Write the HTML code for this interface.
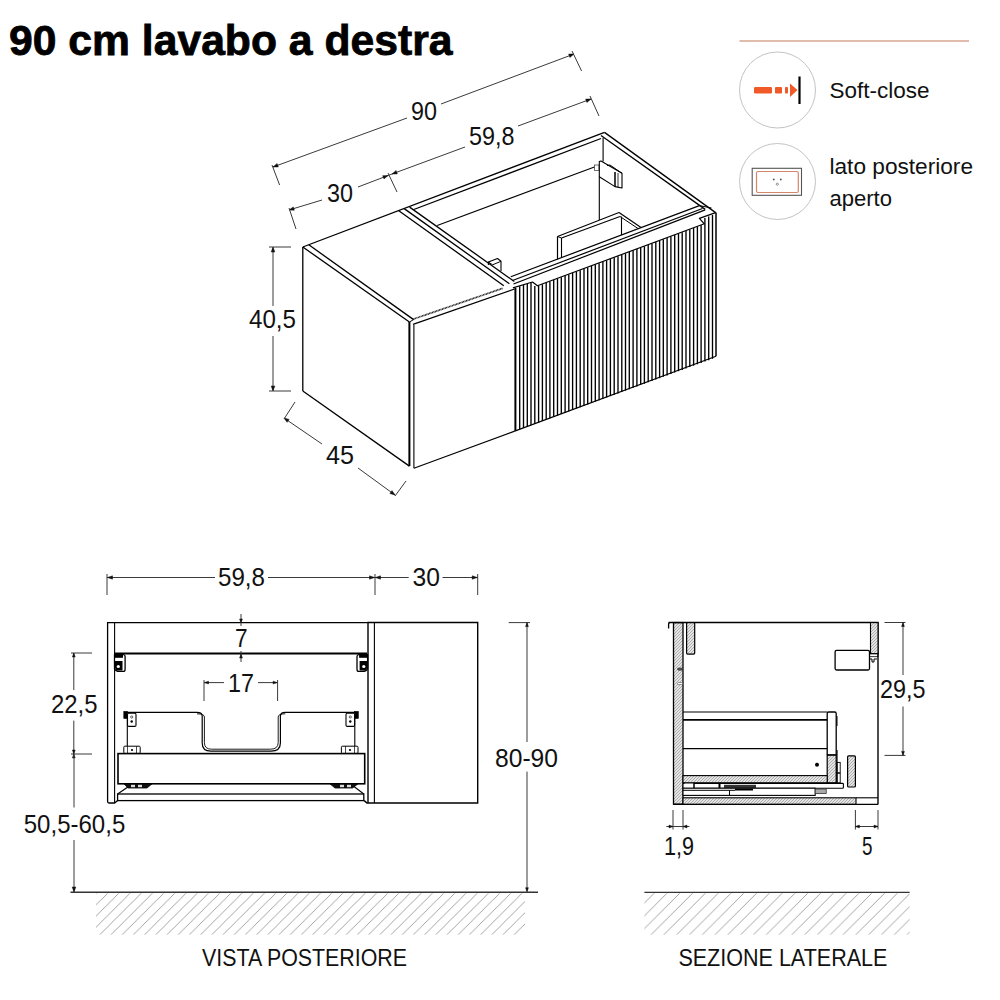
<!DOCTYPE html>
<html><head><meta charset="utf-8"><style>
html,body{margin:0;padding:0;background:#fff;width:1000px;height:1000px;overflow:hidden}
svg{display:block}
text{font-family:"Liberation Sans",sans-serif}
</style></head><body>
<svg width="1000" height="1000" viewBox="0 0 1000 1000">
<defs>
<pattern id="hatch1" patternUnits="userSpaceOnUse" width="11.2" height="11.2" patternTransform="translate(1034.5,0)">
<line x1="-1" y1="12.2" x2="12.2" y2="-1" stroke="#9a9a9a" stroke-width="0.9"/>
</pattern>
<pattern id="hatch3" patternUnits="userSpaceOnUse" width="12.8" height="12.8" patternTransform="translate(1585.8,0)">
<line x1="-1" y1="13.8" x2="13.8" y2="-1" stroke="#9a9a9a" stroke-width="0.9"/>
</pattern>
<pattern id="hatch2" patternUnits="userSpaceOnUse" width="3" height="3">
<rect width="3" height="3" fill="#e4e4e4"/>
<line x1="-0.5" y1="3.5" x2="3.5" y2="-0.5" stroke="#a0a0a0" stroke-width="0.8"/>
</pattern>
</defs>
<rect width="1000" height="1000" fill="#fff"/>
<text x="9" y="55.3" font-size="42" font-weight="bold" fill="#000" stroke="#000" stroke-width="0.8" text-anchor="start" textLength="443.5" lengthAdjust="spacingAndGlyphs">90 cm lavabo a destra</text>
<line x1="739.5" y1="41.0" x2="969.0" y2="41.0" stroke="#c47a5a" stroke-width="1.2"/>
<circle cx="777.5" cy="90" r="38" fill="none" stroke="#c4c4c4" stroke-width="1"/>
<rect x="754" y="87" width="18" height="6.5" rx="1.2" fill="#f05a28"/>
<rect x="775" y="87" width="7" height="6.5" rx="1" fill="#f05a28"/>
<rect x="785" y="87" width="3" height="6.5" rx="0.8" fill="#f05a28"/>
<polygon points="790,83.5 797.5,90 790,97" fill="#f05a28"/>
<line x1="799.5" y1="76.5" x2="799.5" y2="104.0" stroke="#000" stroke-width="2.2"/>
<text x="829.5" y="98.4" font-size="22" font-weight="normal" fill="#111" text-anchor="start" textLength="100" lengthAdjust="spacingAndGlyphs">Soft-close</text>
<circle cx="777.5" cy="181.5" r="38" fill="none" stroke="#c4c4c4" stroke-width="1"/>
<rect x="752.2" y="168.3" width="49.3" height="27.0" rx="0" stroke="#555" stroke-width="1.1" fill="none"/>
<rect x="756.5" y="171.5" width="41.8" height="21.0" rx="1.5" stroke="#d4866a" stroke-width="1.2" fill="none"/>
<circle cx="773.8" cy="179.5" r="0.9" fill="#555"/><circle cx="780.8" cy="179.5" r="0.9" fill="#555"/><circle cx="777.3" cy="184.2" r="1.1" fill="none" stroke="#555" stroke-width="0.6"/>
<text x="829.5" y="174" font-size="22" font-weight="normal" fill="#111" text-anchor="start" textLength="143.5" lengthAdjust="spacingAndGlyphs">lato posteriore</text>
<text x="829.5" y="206.4" font-size="22" font-weight="normal" fill="#111" text-anchor="start" textLength="62.5" lengthAdjust="spacingAndGlyphs">aperto</text>
<line x1="273.0" y1="167.0" x2="407.0" y2="118.0" stroke="#3a3a3a" stroke-width="1.0"/>
<line x1="441.0" y1="104.0" x2="574.0" y2="54.0" stroke="#3a3a3a" stroke-width="1.0"/>
<polygon points="273.0,167.0 277.1,163.6 278.3,166.9" stroke="#111" stroke-width="0.5" fill="#111" stroke-linejoin="round"/>
<polygon points="574.0,54.0 569.9,57.4 568.7,54.1" stroke="#111" stroke-width="0.5" fill="#111" stroke-linejoin="round"/>
<line x1="272.0" y1="165.0" x2="279.6" y2="185.0" stroke="#3a3a3a" stroke-width="1.0"/>
<line x1="572.0" y1="51.0" x2="581.6" y2="71.0" stroke="#3a3a3a" stroke-width="1.0"/>
<text x="411" y="120" font-size="25" font-weight="normal" fill="#111" text-anchor="start" textLength="26" lengthAdjust="spacingAndGlyphs">90</text>
<line x1="392.0" y1="174.0" x2="465.0" y2="147.0" stroke="#3a3a3a" stroke-width="1.0"/>
<line x1="518.0" y1="126.0" x2="591.0" y2="99.0" stroke="#3a3a3a" stroke-width="1.0"/>
<polygon points="392.0,174.0 396.1,170.6 397.3,173.9" stroke="#111" stroke-width="0.5" fill="#111" stroke-linejoin="round"/>
<polygon points="591.0,99.0 586.9,102.4 585.7,99.1" stroke="#111" stroke-width="0.5" fill="#111" stroke-linejoin="round"/>
<line x1="590.0" y1="96.0" x2="599.0" y2="116.0" stroke="#3a3a3a" stroke-width="1.0"/>
<text x="469" y="145" font-size="25" font-weight="normal" fill="#111" text-anchor="start" textLength="45.5" lengthAdjust="spacingAndGlyphs">59,8</text>
<line x1="289.0" y1="210.0" x2="322.0" y2="200.0" stroke="#3a3a3a" stroke-width="1.0"/>
<line x1="358.0" y1="187.0" x2="392.0" y2="174.0" stroke="#3a3a3a" stroke-width="1.0"/>
<polygon points="289.0,210.0 293.3,206.9 294.3,210.2" stroke="#111" stroke-width="0.5" fill="#111" stroke-linejoin="round"/>
<polygon points="388.0,175.5 384.0,178.9 382.7,175.7" stroke="#111" stroke-width="0.5" fill="#111" stroke-linejoin="round"/>
<line x1="289.0" y1="208.0" x2="296.0" y2="229.0" stroke="#3a3a3a" stroke-width="1.0"/>
<line x1="388.0" y1="173.0" x2="397.0" y2="192.0" stroke="#3a3a3a" stroke-width="1.0"/>
<text x="327" y="202" font-size="25" font-weight="normal" fill="#111" text-anchor="start" textLength="26" lengthAdjust="spacingAndGlyphs">30</text>
<line x1="273.0" y1="247.0" x2="273.0" y2="306.0" stroke="#3a3a3a" stroke-width="1.0"/>
<line x1="273.0" y1="336.0" x2="273.0" y2="391.0" stroke="#3a3a3a" stroke-width="1.0"/>
<polygon points="273.0,247.0 274.8,252.0 271.2,252.0" stroke="#111" stroke-width="0.5" fill="#111" stroke-linejoin="round"/>
<polygon points="273.0,391.0 271.2,386.0 274.8,386.0" stroke="#111" stroke-width="0.5" fill="#111" stroke-linejoin="round"/>
<line x1="269.0" y1="247.0" x2="291.0" y2="247.0" stroke="#3a3a3a" stroke-width="1.0"/>
<line x1="269.0" y1="391.0" x2="291.0" y2="391.0" stroke="#3a3a3a" stroke-width="1.0"/>
<text x="249" y="328.3" font-size="25" font-weight="normal" fill="#111" text-anchor="start" textLength="47" lengthAdjust="spacingAndGlyphs">40,5</text>
<line x1="284.0" y1="418.0" x2="322.0" y2="444.0" stroke="#3a3a3a" stroke-width="1.0"/>
<line x1="358.0" y1="468.0" x2="395.0" y2="495.0" stroke="#3a3a3a" stroke-width="1.0"/>
<polygon points="284.0,418.0 289.1,419.4 287.1,422.3" stroke="#111" stroke-width="0.5" fill="#111" stroke-linejoin="round"/>
<polygon points="395.0,495.0 389.9,493.5 392.0,490.6" stroke="#111" stroke-width="0.5" fill="#111" stroke-linejoin="round"/>
<line x1="284.0" y1="419.0" x2="295.0" y2="402.0" stroke="#3a3a3a" stroke-width="1.0"/>
<line x1="395.0" y1="496.0" x2="406.0" y2="481.0" stroke="#3a3a3a" stroke-width="1.0"/>
<text x="326" y="464.4" font-size="25" font-weight="normal" fill="#111" text-anchor="start" textLength="28" lengthAdjust="spacingAndGlyphs">45</text>
<line x1="302.8" y1="247.0" x2="302.8" y2="391.0" stroke="#000" stroke-width="1.3"/>
<line x1="302.8" y1="391.0" x2="409.4" y2="466.1" stroke="#000" stroke-width="1.3"/>
<line x1="302.8" y1="247.0" x2="604.5" y2="132.4" stroke="#000" stroke-width="1.3"/>
<line x1="302.8" y1="247.0" x2="409.4" y2="322.0" stroke="#000" stroke-width="1.3"/>
<line x1="308.8" y1="244.8" x2="413.6" y2="319.6" stroke="#000" stroke-width="1.3"/>
<line x1="409.4" y1="322.0" x2="409.4" y2="466.1" stroke="#000" stroke-width="2.0"/>
<line x1="413.9" y1="325.0" x2="413.9" y2="468.2" stroke="#000" stroke-width="1.1"/>
<line x1="413.6" y1="319" x2="503" y2="288.2" stroke="#1a1a1a" stroke-width="1.7" stroke-dasharray="1 0.5"/>
<line x1="413.0" y1="324.4" x2="514.5" y2="289.0" stroke="#000" stroke-width="1.2"/>
<line x1="413.9" y1="468.2" x2="514.7" y2="431.1" stroke="#000" stroke-width="1.2"/>
<line x1="409.4" y1="322.0" x2="413.6" y2="319.6" stroke="#000" stroke-width="1.0"/>
<line x1="398.8" y1="210.7" x2="503.8" y2="285.8" stroke="#000" stroke-width="1.3"/>
<line x1="404.2" y1="208.6" x2="509.4" y2="283.7" stroke="#000" stroke-width="1.3"/>
<line x1="409.6" y1="207.1" x2="514.3" y2="281.5" stroke="#000" stroke-width="1.3"/>
<line x1="413.8" y1="209.5" x2="601.0" y2="138.5" stroke="#000" stroke-width="1.3"/>
<line x1="604.5" y1="132.4" x2="715.6" y2="212.6" stroke="#000" stroke-width="1.3"/>
<line x1="601.0" y1="135.5" x2="705.2" y2="209.4" stroke="#000" stroke-width="1.3"/>
<line x1="603.1" y1="138.0" x2="603.1" y2="161.4" stroke="#000" stroke-width="1.1"/>
<line x1="599.3" y1="176.8" x2="599.3" y2="220.0" stroke="#000" stroke-width="1.1"/>
<line x1="437.2" y1="225.4" x2="594.4" y2="167.0" stroke="#000" stroke-width="1.1"/>
<rect x="594.4" y="165.0" width="4.6" height="5.5" rx="0" stroke="#333" stroke-width="0.7" fill="none"/>
<polygon points="599.3,161.6 601.0,161.0 622.0,173.3 622.0,188.0 615.0,186.6 599.3,176.8" stroke="#000" stroke-width="1.1" fill="none" stroke-linejoin="round"/>
<polyline points="607.0,165.5 610.0,165.0 622.0,173.3" stroke="#000" stroke-width="1.0" fill="none" stroke-linejoin="round"/>
<line x1="615.0" y1="172.0" x2="615.0" y2="186.6" stroke="#000" stroke-width="1.5"/>
<line x1="618.0" y1="173.0" x2="618.0" y2="187.5" stroke="#000" stroke-width="0.8"/>
<polyline points="488.4,265.0 488.4,262.0 497.5,258.5 501.0,261.3 501.0,271.1" stroke="#000" stroke-width="1.1" fill="none" stroke-linejoin="round"/>
<line x1="488.4" y1="262.0" x2="492.6" y2="264.8" stroke="#000" stroke-width="1.0"/>
<line x1="492.6" y1="264.8" x2="501.0" y2="261.3" stroke="#000" stroke-width="1.0"/>
<line x1="557.5" y1="236.5" x2="557.5" y2="259.5" stroke="#000" stroke-width="1.2"/>
<line x1="561.5" y1="238.0" x2="561.5" y2="257.5" stroke="#000" stroke-width="1.1"/>
<line x1="557.5" y1="236.5" x2="619.0" y2="212.5" stroke="#000" stroke-width="1.2"/>
<line x1="561.5" y1="238.0" x2="620.0" y2="216.5" stroke="#000" stroke-width="1.1"/>
<line x1="619.0" y1="212.5" x2="641.0" y2="227.5" stroke="#000" stroke-width="1.2"/>
<line x1="620.0" y1="216.5" x2="638.0" y2="228.5" stroke="#000" stroke-width="1.0"/>
<line x1="621.5" y1="216.5" x2="621.5" y2="235.0" stroke="#000" stroke-width="1.1"/>
<line x1="557.5" y1="236.5" x2="561.5" y2="238.0" stroke="#000" stroke-width="1.0"/>
<line x1="510.8" y1="276.7" x2="699.4" y2="205.6" stroke="#000" stroke-width="1.2"/>
<line x1="512.5" y1="280.5" x2="702.5" y2="208.5" stroke="#000" stroke-width="1.2"/>
<line x1="513.5" y1="284.0" x2="705.2" y2="209.9" stroke="#000" stroke-width="1.2"/>
<line x1="699.4" y1="205.6" x2="711.5" y2="208.0" stroke="#000" stroke-width="1.0"/>
<polyline points="512.9,287.9 532.5,282.0 537.4,285.8 704.3,223.8 699.4,218.4 715.6,212.6" stroke="#000" stroke-width="1.2" fill="none" stroke-linejoin="round"/>
<line x1="716.0" y1="212.6" x2="716.0" y2="356.2" stroke="#000" stroke-width="1.5"/>
<line x1="514.7" y1="431.1" x2="716.0" y2="356.2" stroke="#000" stroke-width="1.2"/>
<line x1="515.4" y1="288.0" x2="515.4" y2="431.0" stroke="#000" stroke-width="2.0"/>
<line x1="519.7" y1="286.2" x2="519.7" y2="429.3" stroke="#000" stroke-width="1.35"/>
<line x1="523.5" y1="285.0" x2="523.5" y2="427.9" stroke="#000" stroke-width="1.35"/>
<line x1="527.3" y1="283.9" x2="527.3" y2="426.5" stroke="#000" stroke-width="1.35"/>
<line x1="531.0" y1="282.8" x2="531.0" y2="425.1" stroke="#000" stroke-width="1.35"/>
<line x1="534.8" y1="286.1" x2="534.8" y2="423.7" stroke="#000" stroke-width="1.35"/>
<line x1="538.6" y1="285.7" x2="538.6" y2="422.4" stroke="#000" stroke-width="1.35"/>
<line x1="542.4" y1="284.3" x2="542.4" y2="421.0" stroke="#000" stroke-width="1.35"/>
<line x1="546.2" y1="282.8" x2="546.2" y2="419.6" stroke="#000" stroke-width="1.35"/>
<line x1="549.9" y1="281.4" x2="549.9" y2="418.2" stroke="#000" stroke-width="1.35"/>
<line x1="553.7" y1="280.0" x2="553.7" y2="416.8" stroke="#000" stroke-width="1.35"/>
<line x1="557.5" y1="278.6" x2="557.5" y2="415.5" stroke="#000" stroke-width="1.35"/>
<line x1="561.3" y1="277.2" x2="561.3" y2="414.1" stroke="#000" stroke-width="1.35"/>
<line x1="565.1" y1="275.8" x2="565.1" y2="412.7" stroke="#000" stroke-width="1.35"/>
<line x1="568.8" y1="274.4" x2="568.8" y2="411.3" stroke="#000" stroke-width="1.35"/>
<line x1="572.6" y1="273.0" x2="572.6" y2="409.9" stroke="#000" stroke-width="1.35"/>
<line x1="576.4" y1="271.6" x2="576.4" y2="408.5" stroke="#000" stroke-width="1.35"/>
<line x1="580.2" y1="270.2" x2="580.2" y2="407.2" stroke="#000" stroke-width="1.35"/>
<line x1="584.0" y1="268.8" x2="584.0" y2="405.8" stroke="#000" stroke-width="1.35"/>
<line x1="587.7" y1="267.4" x2="587.7" y2="404.4" stroke="#000" stroke-width="1.35"/>
<line x1="591.5" y1="266.0" x2="591.5" y2="403.0" stroke="#000" stroke-width="1.35"/>
<line x1="595.3" y1="264.6" x2="595.3" y2="401.6" stroke="#000" stroke-width="1.35"/>
<line x1="599.1" y1="263.2" x2="599.1" y2="400.3" stroke="#000" stroke-width="1.35"/>
<line x1="602.9" y1="261.8" x2="602.9" y2="398.9" stroke="#000" stroke-width="1.35"/>
<line x1="606.6" y1="260.4" x2="606.6" y2="397.5" stroke="#000" stroke-width="1.35"/>
<line x1="610.4" y1="259.0" x2="610.4" y2="396.1" stroke="#000" stroke-width="1.35"/>
<line x1="614.2" y1="257.6" x2="614.2" y2="394.7" stroke="#000" stroke-width="1.35"/>
<line x1="618.0" y1="256.2" x2="618.0" y2="393.4" stroke="#000" stroke-width="1.35"/>
<line x1="621.8" y1="254.8" x2="621.8" y2="392.0" stroke="#000" stroke-width="1.35"/>
<line x1="625.5" y1="253.4" x2="625.5" y2="390.6" stroke="#000" stroke-width="1.35"/>
<line x1="629.3" y1="252.0" x2="629.3" y2="389.2" stroke="#000" stroke-width="1.35"/>
<line x1="633.1" y1="250.5" x2="633.1" y2="387.8" stroke="#000" stroke-width="1.35"/>
<line x1="636.9" y1="249.1" x2="636.9" y2="386.4" stroke="#000" stroke-width="1.35"/>
<line x1="640.7" y1="247.7" x2="640.7" y2="385.1" stroke="#000" stroke-width="1.35"/>
<line x1="644.4" y1="246.3" x2="644.4" y2="383.7" stroke="#000" stroke-width="1.35"/>
<line x1="648.2" y1="244.9" x2="648.2" y2="382.3" stroke="#000" stroke-width="1.35"/>
<line x1="652.0" y1="243.5" x2="652.0" y2="380.9" stroke="#000" stroke-width="1.35"/>
<line x1="655.8" y1="242.1" x2="655.8" y2="379.5" stroke="#000" stroke-width="1.35"/>
<line x1="659.6" y1="240.7" x2="659.6" y2="378.2" stroke="#000" stroke-width="1.35"/>
<line x1="663.3" y1="239.3" x2="663.3" y2="376.8" stroke="#000" stroke-width="1.35"/>
<line x1="667.1" y1="237.9" x2="667.1" y2="375.4" stroke="#000" stroke-width="1.35"/>
<line x1="670.9" y1="236.5" x2="670.9" y2="374.0" stroke="#000" stroke-width="1.35"/>
<line x1="674.7" y1="235.1" x2="674.7" y2="372.6" stroke="#000" stroke-width="1.35"/>
<line x1="678.5" y1="233.7" x2="678.5" y2="371.2" stroke="#000" stroke-width="1.35"/>
<line x1="682.2" y1="232.3" x2="682.2" y2="369.9" stroke="#000" stroke-width="1.35"/>
<line x1="686.0" y1="230.9" x2="686.0" y2="368.5" stroke="#000" stroke-width="1.35"/>
<line x1="689.8" y1="229.5" x2="689.8" y2="367.1" stroke="#000" stroke-width="1.35"/>
<line x1="693.6" y1="228.1" x2="693.6" y2="365.7" stroke="#000" stroke-width="1.35"/>
<line x1="697.4" y1="226.7" x2="697.4" y2="364.3" stroke="#000" stroke-width="1.35"/>
<line x1="701.1" y1="225.3" x2="701.1" y2="363.0" stroke="#000" stroke-width="1.35"/>
<line x1="704.9" y1="218.1" x2="704.9" y2="361.6" stroke="#000" stroke-width="1.35"/>
<line x1="708.7" y1="216.5" x2="708.7" y2="360.2" stroke="#000" stroke-width="1.35"/>
<line x1="712.5" y1="215.0" x2="712.5" y2="358.8" stroke="#000" stroke-width="1.35"/>
<line x1="107.0" y1="577.5" x2="215.0" y2="577.5" stroke="#3a3a3a" stroke-width="1.0"/>
<line x1="268.0" y1="577.5" x2="408.7" y2="577.5" stroke="#3a3a3a" stroke-width="1.0"/>
<line x1="442.5" y1="577.5" x2="477.7" y2="577.5" stroke="#3a3a3a" stroke-width="1.0"/>
<line x1="107.0" y1="574.0" x2="107.0" y2="595.0" stroke="#3a3a3a" stroke-width="1.0"/>
<line x1="375.0" y1="574.0" x2="375.0" y2="595.0" stroke="#3a3a3a" stroke-width="1.0"/>
<line x1="477.7" y1="574.0" x2="477.7" y2="595.0" stroke="#3a3a3a" stroke-width="1.0"/>
<polygon points="107.5,577.5 112.5,575.8 112.5,579.2" stroke="#111" stroke-width="0.5" fill="#111" stroke-linejoin="round"/>
<polygon points="374.5,577.5 369.5,579.2 369.5,575.8" stroke="#111" stroke-width="0.5" fill="#111" stroke-linejoin="round"/>
<polygon points="375.5,577.5 380.5,575.8 380.5,579.2" stroke="#111" stroke-width="0.5" fill="#111" stroke-linejoin="round"/>
<polygon points="477.2,577.5 472.2,579.2 472.2,575.8" stroke="#111" stroke-width="0.5" fill="#111" stroke-linejoin="round"/>
<text x="218" y="586" font-size="25" font-weight="normal" fill="#111" text-anchor="start" textLength="47" lengthAdjust="spacingAndGlyphs">59,8</text>
<text x="412.6" y="586" font-size="25" font-weight="normal" fill="#111" text-anchor="start" textLength="27.4" lengthAdjust="spacingAndGlyphs">30</text>
<path d="M367.8,622.7 L107.6,622.7 L107.6,801.5 Q107.6,803 109,803 L114.6,803 L117.6,800.6" stroke="#000" stroke-width="1.3" fill="none"/>
<line x1="114.6" y1="622.7" x2="114.6" y2="803.0" stroke="#000" stroke-width="1.1"/>
<path d="M364.2,800.6 L367,803 L477.7,803 L477.7,622.5 L368,622.5 L368,803" stroke="#000" stroke-width="1.4" fill="none"/>
<line x1="374.4" y1="622.5" x2="374.4" y2="803.0" stroke="#000" stroke-width="1.1"/>
<line x1="114.4" y1="653.6" x2="367.0" y2="653.6" stroke="#000" stroke-width="2.0"/>
<line x1="241.0" y1="614.0" x2="241.0" y2="626.0" stroke="#3a3a3a" stroke-width="1.0"/>
<line x1="241.0" y1="651.0" x2="241.0" y2="662.0" stroke="#3a3a3a" stroke-width="1.0"/>
<polygon points="241.0,623.0 239.6,619.0 242.4,619.0" stroke="#111" stroke-width="0.5" fill="#111" stroke-linejoin="round"/>
<polygon points="241.0,654.0 242.4,658.0 239.6,658.0" stroke="#111" stroke-width="0.5" fill="#111" stroke-linejoin="round"/>
<text x="235" y="647" font-size="25" font-weight="normal" fill="#111" text-anchor="start" textLength="12.6" lengthAdjust="spacingAndGlyphs">7</text>
<line x1="204.0" y1="680.0" x2="204.0" y2="701.0" stroke="#3a3a3a" stroke-width="1.0"/>
<line x1="277.6" y1="680.0" x2="277.6" y2="701.0" stroke="#3a3a3a" stroke-width="1.0"/>
<line x1="204.0" y1="682.6" x2="224.0" y2="682.6" stroke="#3a3a3a" stroke-width="1.0"/>
<line x1="258.0" y1="682.6" x2="277.6" y2="682.6" stroke="#3a3a3a" stroke-width="1.0"/>
<polygon points="204.5,682.6 208.5,681.2 208.5,684.0" stroke="#111" stroke-width="0.5" fill="#111" stroke-linejoin="round"/>
<polygon points="277.1,682.6 273.1,684.0 273.1,681.2" stroke="#111" stroke-width="0.5" fill="#111" stroke-linejoin="round"/>
<text x="228" y="692" font-size="25" font-weight="normal" fill="#111" text-anchor="start" textLength="26" lengthAdjust="spacingAndGlyphs">17</text>
<line x1="73.8" y1="653.0" x2="73.8" y2="690.0" stroke="#3a3a3a" stroke-width="1.0"/>
<line x1="73.8" y1="720.6" x2="73.8" y2="754.0" stroke="#3a3a3a" stroke-width="1.0"/>
<line x1="71.0" y1="653.0" x2="92.0" y2="653.0" stroke="#3a3a3a" stroke-width="1.0"/>
<line x1="71.0" y1="754.0" x2="92.0" y2="754.0" stroke="#3a3a3a" stroke-width="1.0"/>
<polygon points="73.8,653.0 75.2,657.0 72.4,657.0" stroke="#111" stroke-width="0.5" fill="#111" stroke-linejoin="round"/>
<polygon points="73.8,754.0 72.4,750.0 75.2,750.0" stroke="#111" stroke-width="0.5" fill="#111" stroke-linejoin="round"/>
<polygon points="73.8,754.0 75.2,758.0 72.4,758.0" stroke="#111" stroke-width="0.5" fill="#111" stroke-linejoin="round"/>
<text x="51" y="713" font-size="25" font-weight="normal" fill="#111" text-anchor="start" textLength="46.5" lengthAdjust="spacingAndGlyphs">22,5</text>
<line x1="74.0" y1="754.0" x2="74.0" y2="807.5" stroke="#3a3a3a" stroke-width="1.0"/>
<line x1="74.0" y1="840.0" x2="74.0" y2="892.0" stroke="#3a3a3a" stroke-width="1.0"/>
<polygon points="74.0,892.0 72.2,887.0 75.8,887.0" stroke="#111" stroke-width="0.5" fill="#111" stroke-linejoin="round"/>
<text x="23.75" y="832.5" font-size="25" font-weight="normal" fill="#111" text-anchor="start" textLength="101.5" lengthAdjust="spacingAndGlyphs">50,5-60,5</text>
<line x1="527.0" y1="622.6" x2="527.0" y2="742.0" stroke="#3a3a3a" stroke-width="1.0"/>
<line x1="527.0" y1="771.6" x2="527.0" y2="891.7" stroke="#3a3a3a" stroke-width="1.0"/>
<line x1="508.7" y1="622.6" x2="530.0" y2="622.6" stroke="#3a3a3a" stroke-width="1.0"/>
<polygon points="527.0,622.6 528.4,626.6 525.6,626.6" stroke="#111" stroke-width="0.5" fill="#111" stroke-linejoin="round"/>
<polygon points="527.0,891.7 525.6,887.7 528.4,887.7" stroke="#111" stroke-width="0.5" fill="#111" stroke-linejoin="round"/>
<text x="495" y="767" font-size="25" font-weight="normal" fill="#111" text-anchor="start" textLength="63" lengthAdjust="spacingAndGlyphs">80-90</text>
<g transform="translate(114.5,0) scale(1,1)"><path d="M0,654.6 L9,654.6 Q10.6,654.6 10.6,656.5 L10.6,669.5 Q10.6,671.4 8.7,671.4 L5,671.4 Q1,671.4 0,668.5 Z" fill="#fff" stroke="#000" stroke-width="1.3"/><rect x="0" y="654.6" width="8.5" height="3.2" fill="#000"/><path d="M0.5,661 L8,661 L8,670.5 L4,670.5 Q0.5,670.5 0.5,667 Z" fill="#000"/><circle cx="3.8" cy="666.5" r="1.6" fill="#fff"/></g>
<g transform="translate(367.6,0) scale(-1,1)"><path d="M0,654.6 L9,654.6 Q10.6,654.6 10.6,656.5 L10.6,669.5 Q10.6,671.4 8.7,671.4 L5,671.4 Q1,671.4 0,668.5 Z" fill="#fff" stroke="#000" stroke-width="1.3"/><rect x="0" y="654.6" width="8.5" height="3.2" fill="#000"/><path d="M0.5,661 L8,661 L8,670.5 L4,670.5 Q0.5,670.5 0.5,667 Z" fill="#000"/><circle cx="3.8" cy="666.5" r="1.6" fill="#fff"/></g>
<path d="M124,712.3 L197,712.3 Q202.2,712.3 202.2,716 L202.2,743 Q202.2,751.2 211,751.2 L271,751.2 Q280.4,751.2 280.4,743 L280.4,716 Q280.4,712.3 285.3,712.3 L358,712.3" stroke="#000" stroke-width="1.2" fill="none"/>
<path d="M197,713.8 Q204.4,713.8 204.4,717 L204.4,742.5 Q204.4,749.2 211.5,749.2 L270.5,749.2 Q278.2,749.2 278.2,742.5 L278.2,717 Q278.2,713.8 285.3,713.8" stroke="#000" stroke-width="0.9" fill="none"/>
<line x1="127.3" y1="718.0" x2="127.3" y2="746.0" stroke="#000" stroke-width="1.1"/>
<line x1="354.8" y1="718.0" x2="354.8" y2="746.0" stroke="#000" stroke-width="1.1"/>
<rect x="123.8" y="711.5" width="3.7" height="7.0" rx="0" stroke="#000" stroke-width="0.6" fill="#000"/>
<rect x="127.5" y="713.2" width="8.5" height="13.2" rx="1.2" stroke="#000" stroke-width="1.1" fill="#fff"/>
<circle cx="131.7" cy="717" r="1.1" fill="none" stroke="#000" stroke-width="0.6"/><circle cx="131.7" cy="721.5" r="1.2" fill="#000"/>
<rect x="354.6" y="711.5" width="3.7" height="7.0" rx="0" stroke="#000" stroke-width="0.6" fill="#000"/>
<rect x="346.0" y="713.2" width="8.6" height="13.2" rx="1.2" stroke="#000" stroke-width="1.1" fill="#fff"/>
<circle cx="350.3" cy="717" r="1.1" fill="none" stroke="#000" stroke-width="0.6"/><circle cx="350.3" cy="721.5" r="1.2" fill="#000"/>
<rect x="123.8" y="746.2" width="16.4" height="7.2" rx="1" stroke="#000" stroke-width="1.0" fill="none"/>
<line x1="127.5" y1="746.2" x2="127.5" y2="753.4" stroke="#000" stroke-width="0.7"/>
<line x1="136.5" y1="746.2" x2="136.5" y2="753.4" stroke="#000" stroke-width="0.7"/>
<circle cx="132" cy="750" r="1.1" fill="#000"/>
<rect x="341.4" y="746.2" width="16.6" height="7.2" rx="1" stroke="#000" stroke-width="1.0" fill="none"/>
<line x1="345.5" y1="746.2" x2="345.5" y2="753.4" stroke="#000" stroke-width="0.7"/>
<line x1="354.5" y1="746.2" x2="354.5" y2="753.4" stroke="#000" stroke-width="0.7"/>
<circle cx="350" cy="750" r="1.1" fill="#000"/>
<rect x="118.0" y="753.6" width="246.7" height="30.2" rx="0" stroke="#000" stroke-width="1.6" fill="none"/>
<rect x="117.6" y="794.0" width="246.2" height="6.6" rx="0" stroke="#000" stroke-width="1.3" fill="none"/>
<line x1="117.6" y1="794.0" x2="129.0" y2="786.2" stroke="#000" stroke-width="1.1"/>
<line x1="363.8" y1="794.0" x2="353.6" y2="786.2" stroke="#000" stroke-width="1.1"/>
<polygon points="124.2,784.0 151.8,784.0 147.0,788.0 128.0,788.0" stroke="#000" stroke-width="0.8" fill="#111" stroke-linejoin="round"/>
<polygon points="330.2,784.0 357.8,784.0 352.5,788.0 335.0,788.0" stroke="#000" stroke-width="0.8" fill="#111" stroke-linejoin="round"/>
<rect x="131.0" y="784.8" width="4.0" height="2.4" rx="0" stroke="#000" stroke-width="0" fill="#ddd"/>
<rect x="138.0" y="784.8" width="4.0" height="2.4" rx="0" stroke="#000" stroke-width="0" fill="#ddd"/>
<rect x="340.0" y="784.8" width="4.0" height="2.4" rx="0" stroke="#000" stroke-width="0" fill="#ddd"/>
<rect x="347.0" y="784.8" width="4.0" height="2.4" rx="0" stroke="#000" stroke-width="0" fill="#ddd"/>
<rect x="673.5" y="622.6" width="9.5" height="181.6" rx="0" stroke="#000" stroke-width="1.3" fill="url(#hatch2)"/>
<line x1="668.6" y1="622.6" x2="878.5" y2="622.6" stroke="#000" stroke-width="1.5"/>
<path d="M668.6,628.5 L668.6,624 Q668.6,622.6 670,622.6" stroke="#000" stroke-width="1.3" fill="none"/>
<line x1="878.0" y1="622.6" x2="878.0" y2="804.4" stroke="#000" stroke-width="1.4"/>
<rect x="686.6" y="622.6" width="8.1" height="31.5" rx="1" stroke="#000" stroke-width="1.2" fill="url(#hatch2)"/>
<rect x="870.5" y="622.6" width="7.5" height="31.1" rx="0" stroke="#000" stroke-width="1.1" fill="url(#hatch2)"/>
<rect x="835.1" y="650.4" width="34.4" height="19.6" rx="1.5" stroke="#000" stroke-width="1.3" fill="#fff"/>
<rect x="869.5" y="653.7" width="8.5" height="3.0" rx="0" stroke="#000" stroke-width="0.8" fill="none"/>
<polyline points="869.5,659.0 872.0,659.0 872.0,662.0 874.0,662.0 874.0,659.0 877.0,659.0" stroke="#000" stroke-width="1.0" fill="none" stroke-linejoin="round"/>
<rect x="677.5" y="668.0" width="5.0" height="2.2" rx="1" stroke="#333" stroke-width="0.6" fill="#555"/>
<rect x="677.5" y="682.5" width="5.0" height="2.0" rx="1" stroke="#555" stroke-width="0.6" fill="#fff"/>
<line x1="683.0" y1="712.0" x2="827.2" y2="712.0" stroke="#000" stroke-width="1.2"/>
<line x1="683.0" y1="719.8" x2="827.2" y2="719.8" stroke="#000" stroke-width="1.7"/>
<path d="M827.2,755.2 L827.2,713.5 Q827.2,712 828.7,712 L834.7,712 Q836.2,712 836.2,713.5 L836.2,755.2" stroke="#000" stroke-width="1.3" fill="none"/>
<line x1="827.2" y1="755.2" x2="836.2" y2="755.2" stroke="#000" stroke-width="2.0"/>
<line x1="683.0" y1="748.6" x2="827.2" y2="748.6" stroke="#000" stroke-width="1.2"/>
<line x1="837.0" y1="716.0" x2="837.0" y2="726.0" stroke="#000" stroke-width="1.0"/>
<circle cx="817" cy="764.8" r="2" fill="#000"/>
<rect x="827.2" y="755.2" width="9.0" height="27.6" rx="0" stroke="#000" stroke-width="1.2" fill="url(#hatch2)"/>
<line x1="837.0" y1="750.0" x2="837.0" y2="782.8" stroke="#000" stroke-width="1.2"/>
<rect x="837.0" y="762.4" width="3.2" height="20.4" rx="0" stroke="#000" stroke-width="0.9" fill="none"/>
<line x1="837.0" y1="773.0" x2="840.2" y2="773.0" stroke="#000" stroke-width="1.5"/>
<rect x="683.0" y="775.6" width="144.2" height="7.2" rx="0" stroke="#000" stroke-width="1.1" fill="url(#hatch2)"/>
<rect x="683.0" y="783.4" width="160.4" height="4.8" rx="0.8" stroke="#000" stroke-width="1.1" fill="#fff"/>
<rect x="684.5" y="783.5" width="9.5" height="4.0" rx="0" stroke="#000" stroke-width="0" fill="#fff"/>
<line x1="694.0" y1="782.8" x2="694.0" y2="788.2" stroke="#000" stroke-width="1.5"/>
<line x1="719.5" y1="782.8" x2="719.5" y2="788.2" stroke="#000" stroke-width="2"/>
<rect x="724" y="784.8" width="32" height="3.6" fill="#333"/>
<rect x="683.0" y="788.2" width="132.2" height="7.2" rx="0" stroke="#000" stroke-width="1.1" fill="#fff"/>
<line x1="683.0" y1="790.3" x2="735.0" y2="790.3" stroke="#000" stroke-width="1.0"/>
<line x1="729.5" y1="790.3" x2="729.5" y2="795.4" stroke="#000" stroke-width="1.0"/>
<line x1="735.0" y1="789.5" x2="753.0" y2="789.5" stroke="#000" stroke-width="2.0"/>
<rect x="815.2" y="789.0" width="11.0" height="4.5" rx="0" stroke="#333" stroke-width="0.8" fill="#aaa"/>
<rect x="683.0" y="797.8" width="173.0" height="6.6" rx="0" stroke="#000" stroke-width="1.1" fill="url(#hatch2)"/>
<line x1="856.0" y1="797.8" x2="878.0" y2="797.8" stroke="#000" stroke-width="1.1"/>
<line x1="673.5" y1="804.4" x2="878.0" y2="804.4" stroke="#000" stroke-width="1.4"/>
<rect x="847.6" y="755.8" width="7.8" height="31.2" rx="1" stroke="#000" stroke-width="1.2" fill="url(#hatch2)"/>
<line x1="903.0" y1="622.5" x2="903.0" y2="675.0" stroke="#3a3a3a" stroke-width="1.0"/>
<line x1="903.0" y1="706.5" x2="903.0" y2="755.4" stroke="#3a3a3a" stroke-width="1.0"/>
<line x1="884.5" y1="622.5" x2="905.5" y2="622.5" stroke="#3a3a3a" stroke-width="1.0"/>
<line x1="884.5" y1="755.4" x2="905.5" y2="755.4" stroke="#3a3a3a" stroke-width="1.0"/>
<polygon points="903.0,622.5 904.4,626.5 901.6,626.5" stroke="#111" stroke-width="0.5" fill="#111" stroke-linejoin="round"/>
<polygon points="903.0,755.4 901.6,751.4 904.4,751.4" stroke="#111" stroke-width="0.5" fill="#111" stroke-linejoin="round"/>
<text x="880" y="697.5" font-size="25" font-weight="normal" fill="#111" text-anchor="start" textLength="45.5" lengthAdjust="spacingAndGlyphs">29,5</text>
<line x1="673.0" y1="810.0" x2="673.0" y2="829.5" stroke="#3a3a3a" stroke-width="1.0"/>
<line x1="683.0" y1="810.0" x2="683.0" y2="829.5" stroke="#3a3a3a" stroke-width="1.0"/>
<line x1="666.4" y1="826.5" x2="689.5" y2="826.5" stroke="#3a3a3a" stroke-width="1.0"/>
<polygon points="673.0,826.5 669.0,827.9 669.0,825.1" stroke="#111" stroke-width="0.5" fill="#111" stroke-linejoin="round"/>
<polygon points="683.0,826.5 687.0,825.1 687.0,827.9" stroke="#111" stroke-width="0.5" fill="#111" stroke-linejoin="round"/>
<text x="664" y="855" font-size="25" font-weight="normal" fill="#111" text-anchor="start" textLength="30" lengthAdjust="spacingAndGlyphs">1,9</text>
<line x1="855.4" y1="810.0" x2="855.4" y2="829.5" stroke="#3a3a3a" stroke-width="1.0"/>
<line x1="878.0" y1="810.0" x2="878.0" y2="829.5" stroke="#3a3a3a" stroke-width="1.0"/>
<line x1="855.4" y1="826.5" x2="878.0" y2="826.5" stroke="#3a3a3a" stroke-width="1.0"/>
<polygon points="855.4,826.5 859.4,825.1 859.4,827.9" stroke="#111" stroke-width="0.5" fill="#111" stroke-linejoin="round"/>
<polygon points="878.0,826.5 874.0,827.9 874.0,825.1" stroke="#111" stroke-width="0.5" fill="#111" stroke-linejoin="round"/>
<text x="862" y="855" font-size="25" font-weight="normal" fill="#111" text-anchor="start" textLength="10.5" lengthAdjust="spacingAndGlyphs">5</text>
<rect x="96" y="893.3" width="429" height="41.3" fill="url(#hatch1)"/>
<line x1="70.5" y1="892.2" x2="538.0" y2="892.2" stroke="#333" stroke-width="1.4"/>
<rect x="644.4" y="893.3" width="265.2" height="41.3" fill="url(#hatch3)"/>
<line x1="644.4" y1="892.4" x2="909.6" y2="892.4" stroke="#333" stroke-width="1.4"/>
<text x="202" y="965.7" font-size="23.5" font-weight="normal" fill="#111" text-anchor="start" textLength="205" lengthAdjust="spacingAndGlyphs">VISTA POSTERIORE</text>
<text x="678.4" y="965.7" font-size="23.5" font-weight="normal" fill="#111" text-anchor="start" textLength="209" lengthAdjust="spacingAndGlyphs">SEZIONE LATERALE</text>
</svg></body></html>
